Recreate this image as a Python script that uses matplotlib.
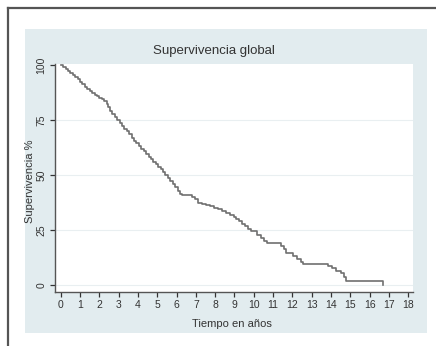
import matplotlib
matplotlib.use("Agg")
import matplotlib.pyplot as plt
from matplotlib.patches import Rectangle
from matplotlib.lines import Line2D

plt.rcParams["font.family"] = ["Liberation Sans", "DejaVu Sans"]

# Kaplan-Meier estimate (years, survival %)
tiempo = [0.00, 0.12, 0.25, 0.37, 0.50, 0.62, 0.75, 0.87, 1.00, 1.12, 1.25,
          1.37, 1.50, 1.62, 1.75, 1.87, 2.00, 2.12, 2.25, 2.37, 2.47, 2.57,
          2.67, 2.80, 2.92, 3.05, 3.17, 3.30, 3.42, 3.55, 3.67, 3.80, 3.92,
          4.05, 4.17, 4.30, 4.42, 4.55, 4.67, 4.80, 4.92, 5.05, 5.17, 5.30,
          5.42, 5.55, 5.67, 5.80, 5.92, 6.05, 6.17, 6.30, 6.80, 6.95, 7.10,
          7.30, 7.55, 7.75, 7.95, 8.15, 8.35, 8.55, 8.75, 8.95, 9.10, 9.25,
          9.40, 9.55, 9.70, 9.85, 10.15, 10.35, 10.55, 10.70, 11.40, 11.55,
          11.65, 12.05, 12.25, 12.45, 12.55, 13.85, 14.05, 14.25, 14.50,
          14.65, 14.80, 16.70]
superv = [100, 99.2, 98.3, 97.5, 96.6, 95.6, 94.6, 93.5, 92.4, 91.3, 90.2,
          89.2, 88.2, 87.4, 86.6, 85.9, 85.1, 84.4, 83.6, 82.4, 80.9, 79.2,
          77.9, 76.6, 75.2, 73.8, 72.4, 70.9, 69.8, 68.5, 67.0, 65.6, 64.4,
          63.1, 61.9, 60.8, 59.6, 58.4, 57.3, 56.1, 55.0, 53.8, 52.6, 51.3,
          50.0, 48.7, 47.3, 45.9, 44.4, 42.9, 41.6, 40.9, 40.2, 38.9, 37.4,
          36.9, 36.4, 35.8, 35.1, 34.4, 33.7, 32.8, 31.9, 31.0, 30.1, 29.0,
          27.9, 26.8, 25.6, 24.4, 22.8, 21.5, 20.2, 19.2, 17.8, 16.2,
          14.4, 13.2, 11.9, 10.5, 9.4, 8.4, 7.6, 6.4, 5.4,
          3.6, 1.6, 0]

xticks = list(range(0, 19))
yticks = [0, 25, 50, 75, 100]

W, H = 436, 346
fig = plt.figure(figsize=(W / 100, H / 100), dpi=100)
fig.patch.set_facecolor("white")

# outer frame (top and left edges visible)
fig.add_artist(Line2D([8 / W, 8 / W], [0, 1 - 8 / H], color="#555555", lw=1.6))
fig.add_artist(Line2D([8 / W, 1], [1 - 8 / H, 1 - 8 / H], color="#555555", lw=1.6))

# light blue graph region
fig.add_artist(Rectangle((25 / W, 1 - 333 / H), 402 / W, 304 / H,
                         transform=fig.transFigure, facecolor="#e2ecef",
                         edgecolor="none", zorder=0))

ax_l, ax_r, ax_t, ax_b = 55, 413, 64, 292
ax = fig.add_axes([ax_l / W, 1 - ax_b / H, (ax_r - ax_l) / W, (ax_b - ax_t) / H])
ax.set_facecolor("white")

ax.plot(tiempo, superv, drawstyle="steps-post", color="#707070", lw=1.2,
        clip_on=False, zorder=3)

for y in [0, 25, 50, 75]:
    ax.axhline(y, color="#e9eff1", lw=0.8, zorder=1)

ax.set_xlim(-0.3, 18.25)
ax.set_ylim(-3.2, 100.5)
ax.set_xticks(xticks)
ax.set_yticks(yticks)
ax.set_yticklabels([str(v) for v in yticks], rotation=90, va="center")

for s in ["top", "right"]:
    ax.spines[s].set_visible(False)
for s in ["left", "bottom"]:
    ax.spines[s].set_color("#555555")
    ax.spines[s].set_linewidth(1.0)
ax.tick_params(colors="#333333", labelsize=7.5, length=3.5, width=0.9,
               direction="out")
ax.tick_params(axis="x", pad=2.5)
ax.tick_params(axis="y", pad=2.5)

ax.set_xlabel("Tiempo en años", fontsize=8, color="#333333")
ax.xaxis.set_label_coords((232 - ax_l) / (ax_r - ax_l), -(324 - ax_b) / (ax_b - ax_t))
ax.set_ylabel("Supervivencia %", fontsize=8, color="#333333")
ax.yaxis.set_label_coords(-(ax_l - 30) / (ax_r - ax_l), (ax_b - 181) / (ax_b - ax_t))
ax.xaxis.label.set_va("center")
ax.yaxis.label.set_va("center")

fig.text(214 / W, 1 - 51 / H, "Supervivencia global", fontsize=9.5,
         color="#333333", ha="center", va="center")

fig.savefig("out.png", dpi=100)
